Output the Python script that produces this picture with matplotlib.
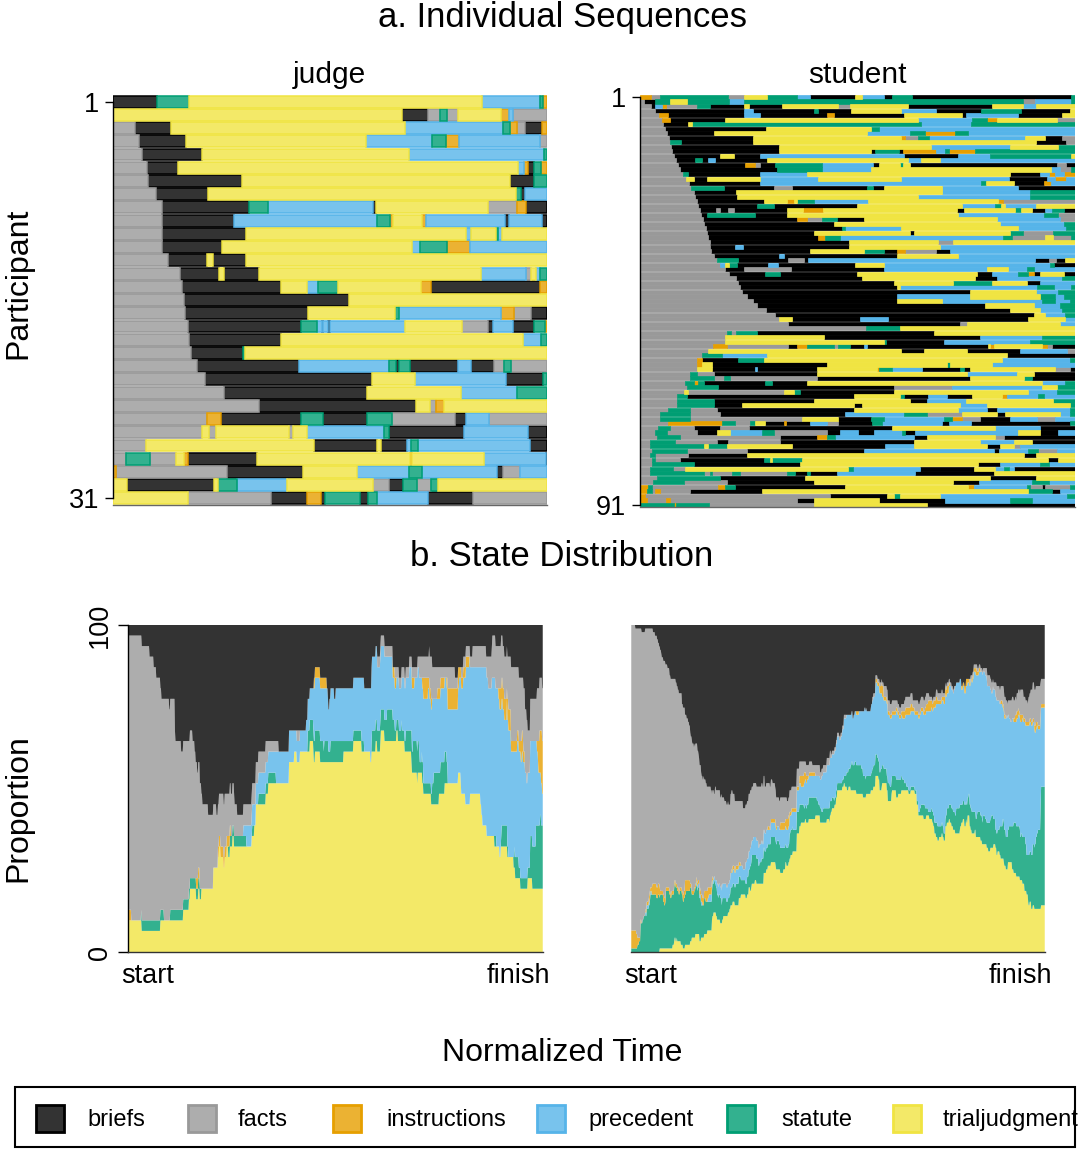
import numpy as np
import matplotlib
matplotlib.use('Agg')
import matplotlib.pyplot as plt
from matplotlib.patches import Rectangle

plt.rcParams['font.family'] = ['Liberation Sans', 'DejaVu Sans']

# states, in the order used by the legend
states = ['briefs', 'facts', 'instructions', 'precedent', 'statute', 'trialjudgment']
codes = ['B', 'F', 'I', 'P', 'S', 'T']
fills = ['#333333', '#adadad', '#ebb233', '#78c3ed', '#33b18f', '#f3e968']
edges = ['#000000', '#999999', '#e69f00', '#56b4e9', '#009e73', '#f0e442']

# sequences: state code + end of the spell in normalized time (0-100)
judge_seqs = [
    "B10.1 S17.6 T85.1 P98.3 S99.1 I100",
    "T66.6 B72.5 F75.3 S77 F79.5 T89.5 I91.3 P92.2 F100",
    "F5.1 B13.3 T67.3 P89.9 S91.4 I93.1 F94.9 B98.9 I100",
    "F6.1 B16.9 T58.4 P73.6 S76.7 I79.8 P98.5 F100",
    "F6.7 B20.5 T68.2 P99.2 S100",
    "F7.8 B14.9 T93.3 P94.6 I95.6 B96.9 S98.7 I100",
    "F8 B29.7 T91.4 B96.9 S100",
    "F9.9 B21.9 T92.9 S94.1 B94.9 P100",
    "F11.2 B31.4 S35.6 P60 B60.7 T86.4 F93.1 I95.2 B100",
    "F11.2 B27.8 P60.9 S63.8 I64.6 T71.1 I72.2 P90.3 B91.3 P98.9 B100",
    "F11.4 B30.7 T81.3 P82.4 T88.2 S88.7 P89.7 T100",
    "F11.2 B25.1 T69 P70.7 S77 I82.2 P100",
    "F12.7 B21.6 T23 B30.7 T100",
    "F15.5 B24.5 T25.5 B33.7 T84.9 P95.1 F96.2 T97.4 P98.3 S100",
    "F16 B38.7 T44.8 P47.3 S51.9 T70.9 I73.2 B98.5 I100",
    "F16.3 B54.3 T100",
    "F16.6 B45 T65 S66 P89.3 I92.3 F96.2 B100",
    "F17.2 B43.3 S47.1 P48.1 B48.5 P49.6 B50 P67.3 T80.3 F86.3 B87.6 P92.2 B96.9 S99.5 I100",
    "F17.6 B38.7 T94.5 P98.7 S100",
    "F17.9 B29.9 S30.4 T100",
    "F19.3 B42.9 P63.7 S65.3 B65.9 S68.4 B79.5 P82.4 B87.7 F90 S91.6 F100",
    "F21.2 B59.6 T69.6 P90.6 B99.1 S100",
    "F25.6 B58.6 T80.1 P93.1 S100",
    "F33.7 B69.8 T73 F74.5 I76.2 T100",
    "F21.6 I24.8 B43.3 S48.3 B58.6 S64.2 F78.8 B81.4 P86.7 F100",
    "F20.5 T22.2 F23.8 T40.6 F41.4 T44.6 P62.4 S63.7 B80.8 P95.6 B100",
    "F7.7 T46.2 B60.9 T61.7 B67.8 P68.6 S70.3 P96 B100",
    "F3.1 S8.6 F14.6 T16.4 I17.2 B33.1 T68.4 I69 T85.4 P99.7 B100",
    "I0.8 F26.2 B43.7 T56.3 P68.3 S71.1 P88.5 B89.9 F93.7 P100",
    "T3.2 B23.3 T24.1 S28.5 P40 T60 F63.7 B66.9 S70.1 F73.2 S74.9 T100",
    "T17.2 F36.3 B44.8 I47.9 B48.8 S56.9 B58.8 S60.9 P72.6 B83 F100",
]

student_seqs = [
    "I2.5 F4.5 S20.3 F23.8 T29.1 S36 P39 B49.5 T51 P56 B58 S62.5 B99 S100",
    "F1 B3.4 S6.9 T10.7 S20.5 P24 S88 F90.7 P99 S100",
    "F2.5 B3.5 P5 I6 F13 S16 B24 T25 B32.6 T45.6 F48.3 T61.7 B80.9 T88 P91 T100",
    "F3.5 B24 P26 B40 S41 B48.5 T60 P68 B78.5 S87.5 B98.9 T100",
    "F4.4 I6.5 B23.8 P27.6 B43 I44.5 B60.6 T74 B75 P87 B97 T100",
    "F5.1 I7 B19.6 T64 P76.3 S79.8 I82 T95.9 F100",
    "F5.3 B11 T12 S64.5 P76 S100",
    "F5.7 B29 T53 S55 P100",
    "F6.2 B16.9 T52.1 P62 S65.5 I72.5 S75.5 P100",
    "F6.7 B26 T60 I61 F64 S66.5 P88.5 T93 B97 F100",
    "F7 S9.5 B26 T91 B98 F100",
    "F7.2 B32 T67 P85 T96 S100",
    "F7.4 B32 T53 B54 S59.5 B60.5 I68 P70 S71 I77 S100",
    "F7.8 B18.4 T21.5 B27.6 P60.6 B73 P80.5 S99 T100",
    "F8.2 B12.7 S14.2 B15.7 P17.2 B29.1 T61.7 P64.5 T69 P100",
    "F8.7 B24.2 I26.5 F27.6 B31 S41.8 P53.5 B55 T59.7 S60.5 T62 B95.9 F98 B100",
    "F9.2 B31.5 S41.8 P53 T94.5 P96.5 F99 S100",
    "F9.8 S11 B27.6 P38.5 T85 B92 P94 I95.5 P97.5 I100",
    "F10.5 T12.5 B15.5 T27.6 P41 T60 P84.9 B93.5 P95.5 I98 P100",
    "F11.3 B27.6 P78.5 S79.5 T86 B92.8 I94.5 P100",
    "F11.8 S19.2 B30.7 F35 B52.1 S53.5 B56 T69.4 P86.8 B100",
    "F12.3 B22 T69.4 P89.7 S100",
    "F12.7 B22.2 T64 P89.7 S100",
    "F13 B28.4 T33.7 I35.3 T36 S40 P52.5 T82.3 I83.5 F100",
    "F13.4 B26.8 S30.7 B49.8 T74 P81.5 S83 T84 P91 T100",
    "F13.8 B17.5 F18.3 B20.3 F21.5 B33.7 T37.5 I42 T72.8 B74.4 T86.3 S87.5 T90.1 B93.1 P94.7 S97.4 B100",
    "F14 B15.3 S26.5 B33.7 T73 P92.8 S96 F100",
    "F14.4 B36 I38.3 F41.8 S45.2 B51.4 T82 P96.6 F100",
    "F14.8 B44.5 T82.8 P97.4 S100",
    "F15.1 B46.4 S47.2 P60 T87 P98 S100",
    "F15.4 B40 T62 B63 T85 S88 F95 S100",
    "F15.7 B41 I42.5 S46 P83.5 S85.5 F93 T95 F99 S100",
    "F16 B48 T68.5 F72 T100",
    "F16.2 B21.8 P23.7 B48 T69 P100",
    "F16.4 B39 T51.6 S56 B59 I61 F68 B71.3 P100",
    "F17 B32 P33 B59 T73.2 P100",
    "F17.6 S22.6 B34 F37.6 B38.7 P90.9 B94 F95.7 B97.7 T100",
    "F18.5 P19.5 T20.5 S22.2 B29.5 P31.8 B49.5 T56 P94.3 S95.2 B100",
    "F19.5 B24 F34.7 B56 P79.7 T84.7 P89 S90.5 P100",
    "F20.5 B28.8 S32.2 B49.8 T77.4 B80.9 P87 S89.3 I90.5 B92 T97.4 B100",
    "F22 B51 T77 B82 P97 S100",
    "F22.5 B58.5 T72 S80.9 T89 B92 P100",
    "F23 B59 T59.8 P91.3 S95.2 P99 S100",
    "F23.5 B75.9 T91 P96 S100",
    "F24.5 B59 P75.9 T92 S95.5 P97.5 S100",
    "F26 B59 T69.4 P92.4 S95.5 P98.9 S100",
    "F27 B79.4 T90.5 P96.6 S100",
    "F29 B85 T92 P97 S100",
    "F31 B90.5 T93 P97.8 S100",
    "F32 T35 B50.6 P56.9 B89.3 T97.8 P100",
    "F34 B73.6 F75.2 T96.6 P100",
    "F52 S59.7 T100",
    "F20 S21 F22 S26.8 B67.5 T100",
    "F19.5 T42.2 B78.2 P92.4 S100",
    "F19.5 T56 S56.6 B69.8 P89.7 S100",
    "F16.7 I19.9 F34.1 B36 I38.3 S44.5 F45.6 S48.3 B51.4 P52.1 B80.1 T80.5 I81.3 T92.4 I93.6 F94.7 B100",
    "F15.7 T60 B65.2 T75.2 B87.4 P98.2 F100",
    "F14.2 S18.8 P29.1 T84.4 B100",
    "F13 I14.2 B22.6 S28.4 T83.2 P98.9 S100",
    "F13 I14.2 T16.5 B42.9 T70.6 S71.3 T81 P100",
    "F13 T16.5 B26.5 P27 B40.6 T54.4 I55 S57.9 P64.8 B73.6 S74.4 B75.9 T95.5 F98.9 B100",
    "F11.5 S13 F16.9 B40.6 T75.2 P86.7 T90.5 B100",
    "F11.5 S16.9 F19.2 S20.7 F40.6 B75.9 T88.2 S90.1 B100",
    "F10.4 S12.5 I13.3 S14.6 B28.8 S30.3 B38.3 T92.4 P97.8 S100",
    "F10.7 S18 B58.3 F71.7 P92.4 T95.9 S100",
    "F10 T11.1 F33 T35.3 S36.8 B58.3 T89.3 P95.9 S100",
    "F8.4 S10.7 B49.1 T59.8 S60.6 B66.3 P70.6 B76.3 T83.2 I84.4 P91.6 S92.8 P100",
    "F8.4 S16.9 B40 T62 B66 P75 T95 S100",
    "F8.4 S16.9 B23.4 T49.1 B51 T73.6 P79.7 T98.9 S100",
    "F6.5 S11.5 F17.6 B49.1 T73.2 P79.7 B82 P98.9 S100",
    "F4.6 S11.5 F18.4 B47.2 P60.6 S66 F74 T82 B84 T96.6 P98.9 S100",
    "F4.6 S11.5 F37.2 T45.6 B53 S56 P69.8 S71.7 I74 F78.2 B85 P91.3 F95.5 P100",
    "F6.5 I18.8 S21.9 F25.3 S26.5 T28.8 B33 I33.5 B39.1 P42.9 F45.6 B53.3 S55.6 P69.4 B71 P76 B98.9 S100",
    "F4.2 S6.9 F12.3 B18.4 F25 B57.9 T81.7 P92 B100",
    "F3.5 S6.1 F13 B17.6 T20.7 P28 S30.7 F42.9 B46 P50.2 B53.7 P60.2 S61 B63.3 P87 T92 B96 P100",
    "F3.8 S9.2 F32.2 B40.6 I42.9 S44.9 P62.9 B66 T81.7 F83.6 B100",
    "F2.3 S8 F17.6 B20.3 F32.2 B62.9 T78.2 P86 T90 B100",
    "F2.3 S14.6 T15.7 S19.9 T34.9 B56.4 P62.9 T79.8 B82.8 T85.9 F87.4 P100",
    "F2.7 S10.7 F24.5 B51.4 P81.3 B82.5 P89.3 S91.6 F95.9 P100",
    "F2.3 S3.5 F11 B24.5 T88.2 B91 T100",
    "F2.7 S3.5 F9.2 B28.4 S29.9 T30.3 S37.2 T93.9 B96.2 T100",
    "F2.7 S12.3 B36.8 T77.8 B82.8 P92 S94 P100",
    "F2.3 S7.7 F10.4 T47.9 S49 P64.4 B76.7 T81.7 P83.6 S84.9 P86 B100",
    "F2.3 S14.6 F16.1 S16.5 F21.1 S23 F33.7 S35.7 B38.3 S39.1 B45.2 P63.3 B81.3 T100",
    "F3.8 S18.4 B38 T80.5 B91 T100",
    "F3 S10 F20 B40 T72 B78 P90 S94 P100",
    "I1.9 S2.7 F18 I19.6 S21.9 B47.2 T75.5 I76.7 P89 S89.7 F92.4 B93.1 F98.9 S100",
    "I1.5 S2.7 F3.5 I4.6 F11.5 B28 T89.3 S94.7 B96.5 P100",
    "I1.2 F43.7 B56.7 T58.3 S59.8 T69 P98.2 S100",
    "I1.5 F6 I7 F36 B40 T55 B70 P85 S90 P100",
    "S7.8 I8.2 S15.9 F40 T66 B100",
]

W, H = 1078, 1150


def parse(s):
    runs = []
    start = 0.0
    for tok in s.split():
        end = float(tok[1:])
        runs.append((codes.index(tok[0]), start, end))
        start = end
    return runs


def box(x0, y0, x1, y1):
    return [x0 / W, 1 - y1 / H, (x1 - x0) / W, (y1 - y0) / H]


def seq_panel(ax, seqs, lw, bh, face):
    n = len(seqs)
    rows = {k: ([], [], []) for k in range(len(codes))}
    for i, s in enumerate(seqs):
        for k, a, b in parse(s):
            rows[k][0].append(i + 1)
            rows[k][1].append(a)
            rows[k][2].append(b - a)
    for k in range(len(codes)):
        y, left, width = rows[k]
        ax.barh(y, width, left=left, height=bh, color=face[k],
                edgecolor=edges[k], linewidth=lw)
    ax.set_xlim(0, 100)
    ax.set_ylim(n + 0.5, 0.5)
    for sp in ['top', 'right']:
        ax.spines[sp].set_visible(False)
    ax.spines['left'].set_bounds(1, n)
    ax.spines['left'].set_linewidth(1.0)
    ax.spines['bottom'].set_color('#666666')
    ax.spines['bottom'].set_linewidth(1.0)
    ax.set_xticks([])
    ax.set_yticks([1, n])
    ax.set_yticklabels(['1', str(n)], fontsize=19.5)
    ax.tick_params(axis='y', length=6, width=1, pad=4)


def state_dist(seqs, npts=800):
    t = (np.arange(npts) + 0.5) * 100.0 / npts
    counts = np.zeros((len(codes), npts))
    for s in seqs:
        for k, a, b in parse(s):
            counts[k, (t >= a) & (t < b)] += 1
    return t, counts / len(seqs) * 100


def dist_panel(ax, seqs, yaxis=True):
    t, pct = state_dist(seqs)
    ax.stackplot(t, pct[::-1], colors=fills[::-1], linewidth=0)
    ax.set_xlim(0, 100)
    ax.set_ylim(0, 100)
    for sp in ['top', 'right']:
        ax.spines[sp].set_visible(False)
    ax.spines['bottom'].set_color('#333333')
    ax.spines['bottom'].set_linewidth(1.0)
    ax.set_xticks([4.8, 94])
    ax.set_xticklabels(['start', 'finish'], fontsize=19.5)
    ax.tick_params(axis='x', length=0, pad=8)
    if yaxis:
        ax.spines['left'].set_bounds(0, 100)
        ax.spines['left'].set_linewidth(1.0)
        ax.set_yticks([0, 100])
        ax.set_yticklabels(['0', '100'], fontsize=19.5, rotation=90, va='center')
        ax.tick_params(axis='y', length=7, width=1, pad=4)
    else:
        ax.spines['left'].set_visible(False)
        ax.set_yticks([])


fig = plt.figure(figsize=(W / 100, H / 100), dpi=100)

ax_j = fig.add_axes(box(113, 95, 547, 505))
seq_panel(ax_j, judge_seqs, lw=1.1, bh=0.9, face=fills)
ax_s = fig.add_axes(box(640, 94.7, 1075, 507.3))
seq_panel(ax_s, student_seqs, lw=0.5, bh=0.9, face=edges)

ax_dj = fig.add_axes(box(128, 625, 543, 952))
dist_panel(ax_dj, judge_seqs, yaxis=True)
ax_ds = fig.add_axes(box(631, 625, 1045, 952))
dist_panel(ax_ds, student_seqs, yaxis=False)

# overlay for titles and the legend, in pixel units
lay = fig.add_axes([0, 0, 1, 1])
lay.set_xlim(0, W)
lay.set_ylim(H, 0)
lay.axis('off')
lay.text(562, 17, 'a. Individual Sequences', fontsize=25, ha='center', va='center')
lay.text(329, 75, 'judge', fontsize=21.5, ha='center', va='center')
lay.text(857, 75, 'student', fontsize=21.5, ha='center', va='center')
lay.text(18, 283, 'Participant', fontsize=23, rotation=90, ha='center', va='center')
lay.text(562, 557, 'b. State Distribution', fontsize=25, ha='center', va='center')
lay.text(18, 808, 'Proportion', fontsize=23, rotation=90, ha='center', va='center')
lay.text(562, 1053, 'Normalized Time', fontsize=23, ha='center', va='center')

lay.add_patch(Rectangle((15, 1087), 1075 - 15, 60, fill=False, edgecolor='black', linewidth=1.5))
sq_x = [35, 187, 332, 536, 726, 892]
tx_x = [87, 238, 386, 588, 781, 943]
for k, name in enumerate(states):
    lay.add_patch(Rectangle((sq_x[k] + 1, 1105), 28, 27, facecolor=fills[k],
                            edgecolor=edges[k], linewidth=2))
    lay.text(tx_x[k], 1120, name, fontsize=17, ha='left', va='center')

fig.savefig('out.png', dpi=100)
